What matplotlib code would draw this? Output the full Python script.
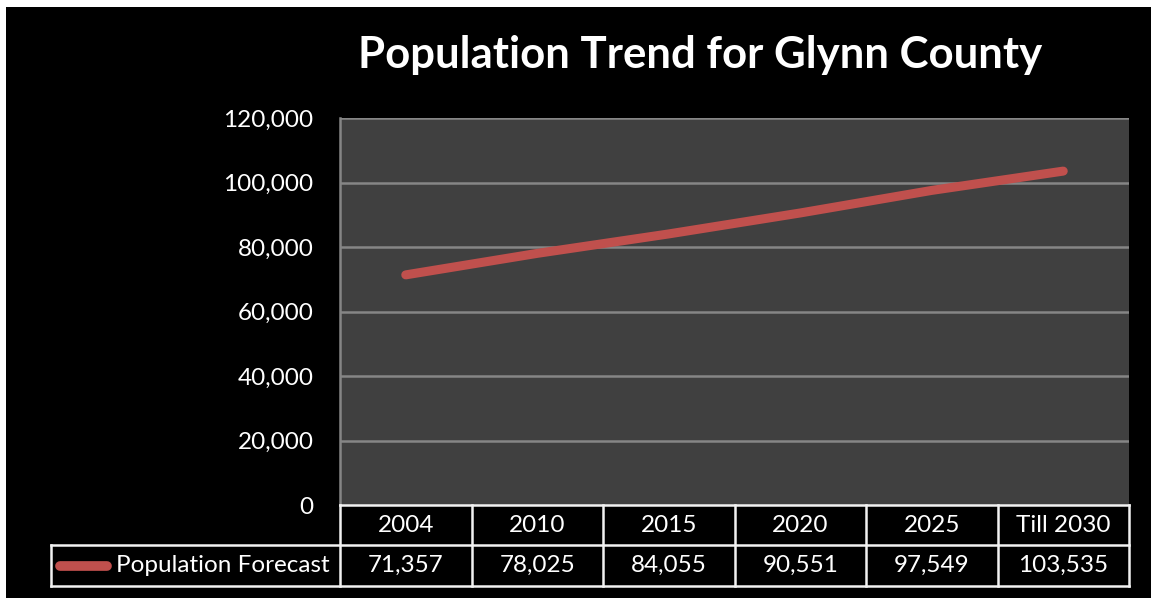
import matplotlib
matplotlib.use("Agg")
import matplotlib.pyplot as plt
from matplotlib.lines import Line2D
import matplotlib.transforms as mtransforms

categories = ["2004", "2010", "2015", "2020", "2025", "Till 2030"]
population = [71357, 78025, 84055, 90551, 97549, 103535]
yticks = [0, 20000, 40000, 60000, 80000, 100000, 120000]
series_name = "Population Forecast"
title = "Population Trend for Glynn County"

W, H = 1151, 598
plt.rcParams['font.family'] = ['Lato', 'DejaVu Sans']
fig = plt.figure(figsize=(W / 100, H / 100), dpi=100, facecolor="white")
FS = 17.5

def px(x, y):
    return (x / W, 1 - y / H)

# black chart background
bg = plt.Rectangle((6 / W, 0), 1 - 6 / W, 1 - 7 / H, transform=fig.transFigure,
                   facecolor="black", edgecolor="none", zorder=-10)
fig.add_artist(bg)

left, right, top, bottom = 340, 1129, 118, 505
ax = fig.add_axes([left / W, 1 - bottom / H, (right - left) / W, (bottom - top) / H])
ax.set_zorder(1)
ax.set_facecolor("#404040")
x = list(range(len(categories)))
ax.plot(x, population, color="#C0504D", lw=6.5, solid_capstyle="round", zorder=3)
ax.set_xlim(-0.5, len(categories) - 0.5)
ax.set_ylim(0, 120000)
ax.set_yticks(yticks)
ax.set_yticklabels([f"{v:,}" for v in yticks], color="white", fontsize=FS)
ax.tick_params(axis="y", length=0, pad=19)
ax.set_xticks([])
for v in yticks[1:]:
    ax.axhline(v, color="#868686", lw=1.8, zorder=1)
for s in ["top", "right", "bottom"]:
    ax.spines[s].set_visible(False)
ax.spines["left"].set_color("#868686")
ax.spines["left"].set_linewidth(1.8)

# data table
bt = mtransforms.blended_transform_factory(ax.transData, fig.transFigure)
y0, y1, y2 = 1 - 505 / H, 1 - 545 / H, 1 - 586 / H
tc = "#f2f2f2"
lw = 1.8
n = len(categories)
fig.add_artist(Line2D([-0.5, n - 0.5], [y0, y0], transform=bt, color=tc, lw=lw, zorder=5))
fig.add_artist(Line2D([51 / W, right / W], [y1, y1], transform=fig.transFigure, color=tc, lw=lw, zorder=5))
fig.add_artist(Line2D([51 / W, right / W], [y2, y2], transform=fig.transFigure, color=tc, lw=lw, zorder=5))
for i in range(n + 1):
    fig.add_artist(Line2D([i - 0.5, i - 0.5], [y0, y2], transform=bt, color=tc, lw=lw, zorder=5))
fig.add_artist(Line2D([51 / W, 51 / W], [y1, y2], transform=fig.transFigure, color=tc, lw=lw, zorder=5))
for i, (c, v) in enumerate(zip(categories, population)):
    fig.text(i, (y0 + y1) / 2, c, transform=bt, ha="center", va="center", color="white", fontsize=FS)
    fig.text(i, (y1 + y2) / 2, f"{v:,}", transform=bt, ha="center", va="center", color="white", fontsize=FS)
# legend key
ym = (y1 + y2) / 2
fig.add_artist(Line2D([60 / W, 107 / W], [ym, ym], transform=fig.transFigure, color="#C0504D",
                      lw=7, solid_capstyle="round", zorder=5))
fig.text(116 / W, ym, series_name, ha="left", va="center", color="white", fontsize=FS)

fig.text(*px(700, 55), title, ha="center", va="center", color="white", fontsize=31.5, fontweight="bold")

fig.savefig("out.png", dpi=100, facecolor=fig.get_facecolor())
